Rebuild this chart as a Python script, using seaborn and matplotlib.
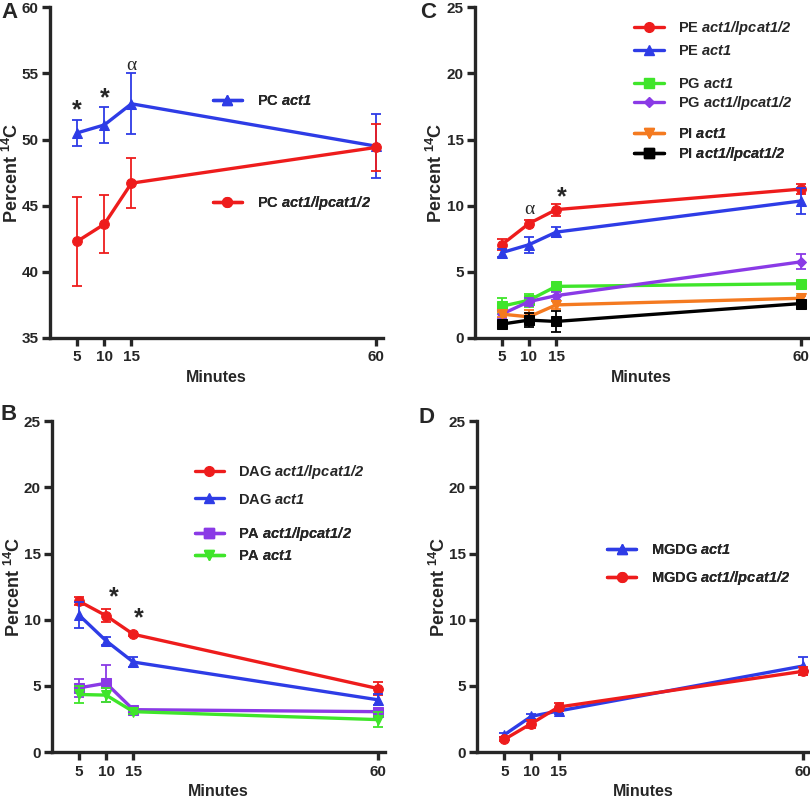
import matplotlib
matplotlib.use("Agg")
import matplotlib.pyplot as plt
import seaborn as sns
from matplotlib.lines import Line2D

# Time points (minutes)
minutes = [5, 10, 15, 60]

# Panel A - PC
pc_act1 = [50.5, 51.1, 52.7, 49.5]
pc_act1_err = [1.0, 1.35, 2.3, 2.4]
pc_lpcat = [42.3, 43.6, 46.7, 49.4]
pc_lpcat_err = [3.35, 2.2, 1.9, 1.8]

# Panel B - DAG / PA
dag_lpcat = [11.4, 10.3, 8.9, 4.8]
dag_lpcat_err = [0.3, 0.5, 0.15, 0.5]
dag_act1 = [10.35, 8.4, 6.8, 3.95]
dag_act1_err = [1.0, 0.3, 0.35, 0.4]
pa_lpcat = [4.85, 5.2, 3.2, 3.05]
pa_lpcat_err = [0.7, 1.4, 0.2, 0.3]
pa_act1 = [4.35, 4.3, 3.05, 2.45]
pa_act1_err = [0.65, 0.55, 0.15, 0.55]

# Panel C - PE / PG / PI
pe_lpcat = [7.05, 8.65, 9.7, 11.25]
pe_lpcat_err = [0.4, 0.3, 0.45, 0.35]
pe_act1 = [6.45, 7.05, 8.0, 10.35]
pe_act1_err = [0.3, 0.6, 0.4, 1.0]
pg_act1 = [2.4, 2.85, 3.9, 4.1]
pg_act1_err = [0.6, 0.5, 0.2, 0.2]
pg_lpcat = [1.8, 2.75, 3.2, 5.75]
pg_lpcat_err = [0.3, 0.3, 0.3, 0.57]
pi_act1 = [1.8, 1.6, 2.5, 3.0]
pi_act1_err = [0.2, 0.5, 0.3, 0.2]
pi_lpcat = [1.05, 1.35, 1.25, 2.6]
pi_lpcat_err = [0.2, 0.5, 0.8, 0.2]

# Panel D - MGDG
mgdg_act1 = [1.3, 2.7, 3.1, 6.5]
mgdg_act1_err = [0.15, 0.2, 0.25, 0.7]
mgdg_lpcat = [0.95, 2.15, 3.4, 6.1]
mgdg_lpcat_err = [0.15, 0.3, 0.3, 0.3]

RED = "#ee1c1c"
BLUE = "#2e3ce6"
GREEN = "#3fe52a"
PURPLE = "#8a3ae6"
ORANGE = "#f47a20"
BLACK = "#000000"

sns.set_style("ticks")
plt.rcParams["font.family"] = ["Liberation Sans", "DejaVu Sans"]
plt.rcParams["font.weight"] = "bold"
plt.rcParams["axes.labelweight"] = "bold"
# gene names in bold italic (digits too), superscript upright bold
plt.rcParams["mathtext.fontset"] = "custom"
plt.rcParams["mathtext.rm"] = "Liberation Sans:italic:bold"
plt.rcParams["mathtext.it"] = "Liberation Sans:italic:bold"
plt.rcParams["mathtext.bf"] = "Liberation Sans:bold"
plt.rcParams["mathtext.default"] = "bf"

fig = plt.figure(figsize=(8.1, 7.99), dpi=100)
axA = fig.add_axes([0.0617, 0.577, 0.411, 0.414])
axC = fig.add_axes([0.586, 0.577, 0.411, 0.414])
axB = fig.add_axes([0.064, 0.0588, 0.411, 0.414])
axD = fig.add_axes([0.589, 0.0588, 0.411, 0.414])


def draw(ax, y, err, color, marker, ms=7):
    sns.lineplot(x=minutes, y=y, ax=ax, color=color, marker=marker,
                 markersize=ms, markeredgecolor=color, linewidth=2.4)
    ax.errorbar(minutes, y, yerr=err, fmt="none", ecolor=color,
                elinewidth=1.3, capsize=3.5, capthick=1.3)
    return Line2D([], [], color=color, marker=marker, markersize=ms,
                  markeredgecolor=color, linewidth=2.4)


def style(ax, ylim, yticks):
    ax.set_xlim(0, 61.3)
    ax.set_ylim(*ylim)
    ax.set_xticks(minutes)
    ax.set_yticks(yticks)
    sns.despine(ax=ax)
    for s in ["left", "bottom"]:
        ax.spines[s].set_linewidth(2.4)
    ax.tick_params(width=2.4, length=6, labelsize=11)
    ax.tick_params(axis="y", pad=2)
    ax.tick_params(axis="x", pad=3)
    ax.set_xlabel("Minutes", fontsize=11.5)
    ax.set_ylabel("Percent $^{\\mathbf{14}}$C", fontsize=13)
    ax.yaxis.set_label_coords(-0.085, 0.5)
    ax.xaxis.set_label_coords(0.5, -0.098)


def leg(ax, handles, labels, x, y, spacing):
    lg = ax.legend(handles, labels, loc="center left", bbox_to_anchor=(x, y),
                   frameon=False, fontsize=10.5, handlelength=2.0,
                   handletextpad=1.0, borderpad=0, borderaxespad=0,
                   labelspacing=spacing)
    ax.add_artist(lg)


def gene(name, g):
    return name + " $\\mathit{" + g + "}$"


# A
h1 = draw(axA, pc_act1, pc_act1_err, BLUE, "^")
h2 = draw(axA, pc_lpcat, pc_lpcat_err, RED, "o")
style(axA, (35, 60), [35, 40, 45, 50, 55, 60])
leg(axA, [h1, h2], [gene("PC", "act1"), gene("PC", "act1/lpcat1/2")], 0.489, 0.559, 5.9)
axA.text(5, 52.2, "*", ha="center", va="center", fontsize=18)
axA.text(10, 53.1, "*", ha="center", va="center", fontsize=18)
axA.text(15, 55.6, "α", ha="center", va="center", fontsize=14,
         family="Liberation Serif", fontweight="normal")

# B
h1 = draw(axB, dag_lpcat, dag_lpcat_err, RED, "o")
h2 = draw(axB, dag_act1, dag_act1_err, BLUE, "^")
h3 = draw(axB, pa_lpcat, pa_lpcat_err, PURPLE, "s", 6.5)
h4 = draw(axB, pa_act1, pa_act1_err, GREEN, "v")
style(axB, (0, 25), [0, 5, 10, 15, 20, 25])
leg(axB, [h1, h2], [gene("DAG", "act1/lpcat1/2"), gene("DAG", "act1")], 0.429, 0.808, 0.8)
leg(axB, [h3, h4], [gene("PA", "act1/lpcat1/2"), gene("PA", "act1")], 0.429, 0.628, 0.4)
axB.text(11.4, 11.7, "*", ha="center", va="center", fontsize=18)
axB.text(16, 10.1, "*", ha="center", va="center", fontsize=18)

# C
h1 = draw(axC, pe_lpcat, pe_lpcat_err, RED, "o")
h2 = draw(axC, pe_act1, pe_act1_err, BLUE, "^")
h3 = draw(axC, pg_act1, pg_act1_err, GREEN, "s", 6.5)
h4 = draw(axC, pg_lpcat, pg_lpcat_err, PURPLE, "D", 5)
h5 = draw(axC, pi_act1, pi_act1_err, ORANGE, "v")
h6 = draw(axC, pi_lpcat, pi_lpcat_err, BLACK, "s", 6.5)
style(axC, (0, 25), [0, 5, 10, 15, 20, 25])
leg(axC, [h1, h2], [gene("PE", "act1/lpcat1/2"), gene("PE", "act1")], 0.48, 0.906, 0.5)
leg(axC, [h3, h4], [gene("PG", "act1"), gene("PG", "act1/lpcat1/2")], 0.48, 0.736, 0.2)
leg(axC, [h5, h6], [gene("PI", "act1"), gene("PI", "act1/lpcat1/2")], 0.48, 0.583, 0.25)
axC.text(10, 9.7, "α", ha="center", va="center", fontsize=14,
         family="Liberation Serif", fontweight="normal")
axC.text(16, 10.6, "*", ha="center", va="center", fontsize=18)

# D
h1 = draw(axD, mgdg_act1, mgdg_act1_err, BLUE, "^")
h2 = draw(axD, mgdg_lpcat, mgdg_lpcat_err, RED, "o")
style(axD, (0, 25), [0, 5, 10, 15, 20, 25])
leg(axD, [h1, h2], [gene("MGDG", "act1"), gene("MGDG", "act1/lpcat1/2")], 0.39, 0.565, 0.8)

# Panel letters
fig.text(0.002, 0.998, "A", fontsize=16, va="top", ha="left")
fig.text(0.519, 0.998, "C", fontsize=16, va="top", ha="left")
fig.text(0.000, 0.494, "B", fontsize=16, va="top", ha="left")
fig.text(0.517, 0.490, "D", fontsize=16, va="top", ha="left")

fig.savefig("out.png", dpi=100)
